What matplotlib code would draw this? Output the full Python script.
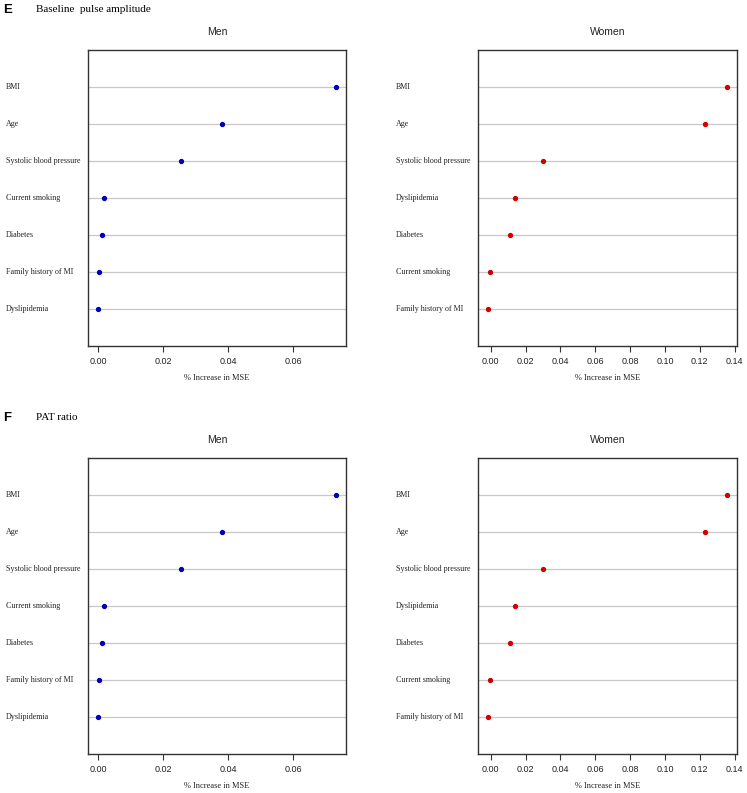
import numpy as np
import matplotlib
matplotlib.use("Agg")
import matplotlib.pyplot as plt
from matplotlib.transforms import blended_transform_factory

# data, listed top to bottom
men_labels = ["BMI", "Age", "Systolic blood pressure", "Current smoking",
              "Diabetes", "Family history of MI", "Dyslipidemia"]
men_vals = [0.0733, 0.0381, 0.0256, 0.0018, 0.0012, 0.0003, -0.0001]

women_labels = ["BMI", "Age", "Systolic blood pressure", "Dyslipidemia",
                "Diabetes", "Current smoking", "Family history of MI"]
women_vals = [0.1358, 0.1228, 0.0298, 0.0137, 0.0108, -0.0006, -0.0018]

men_ticks = [0.00, 0.02, 0.04, 0.06]
women_ticks = [0.00, 0.02, 0.04, 0.06, 0.08, 0.10, 0.12, 0.14]

panels = [("E", "Baseline  pulse amplitude"), ("F", "PAT ratio")]

SERIF = "Liberation Serif"
SANS = "Liberation Sans"

W, H = 747, 793
fig = plt.figure(figsize=(W / 100, H / 100), dpi=100)


def dotchart(left_px, top_px, bottom_px, right_px, labels, vals, ticks,
             color, title, label_x_px):
    ax = fig.add_axes([left_px / W, 1 - bottom_px / H,
                       (right_px - left_px) / W, (bottom_px - top_px) / H])
    n = len(vals)
    ys = np.arange(n, 0, -1)
    for y in ys:
        ax.axhline(y, color="#c8c8c8", lw=0.9, zorder=1)
    ax.plot(vals, ys, "o", color=color, ms=2.8, mec=color, zorder=3)
    lo, hi = min(vals), max(vals)
    pad = (hi - lo) * 0.04
    ax.set_xlim(lo - pad, hi + pad)
    ax.set_ylim(0, n + 1)
    ax.set_yticks([])
    ax.set_xticks(ticks)
    ax.set_xticklabels(["%.2f" % t for t in ticks], fontsize=6.5,
                       family=SANS, color="#222222")
    ax.tick_params(axis="x", length=4, width=0.8, color="#333333", pad=4)
    for s in ax.spines.values():
        s.set_color("#333333")
        s.set_linewidth(1.0)
    ax.set_xlabel("% Increase in MSE", fontsize=6, family=SERIF,
                  labelpad=6, color="#222222")
    tr = blended_transform_factory(fig.transFigure, ax.transData)
    for lab, y in zip(labels, ys):
        ax.text(label_x_px / W, y, lab, transform=tr, fontsize=5.8,
                family=SERIF, ha="left", va="center", color="#222222")
    cx = (left_px + right_px) / 2 / W
    fig.text(cx, 1 - (top_px - 18) / H, title, fontsize=7.5, family=SANS,
             ha="center", va="center", color="#222222")
    return ax


offsets = [0, 408]
for (letter, name), off in zip(panels, offsets):
    fig.text(3 / W, 1 - (10 + off) / H, letter, fontsize=9.5,
             family=SANS, weight="bold", va="center", ha="left")
    fig.text(36 / W, 1 - (10 + off) / H, name, fontsize=8,
             family=SERIF, va="center", ha="left")
    dotchart(88, 50 + off, 346 + off, 346, men_labels, men_vals,
             men_ticks, "#0000b8", "Men", 6)
    dotchart(478, 50 + off, 346 + off, 737, women_labels, women_vals,
             women_ticks, "#d00000", "Women", 396)

fig.savefig("out.png", dpi=100)
